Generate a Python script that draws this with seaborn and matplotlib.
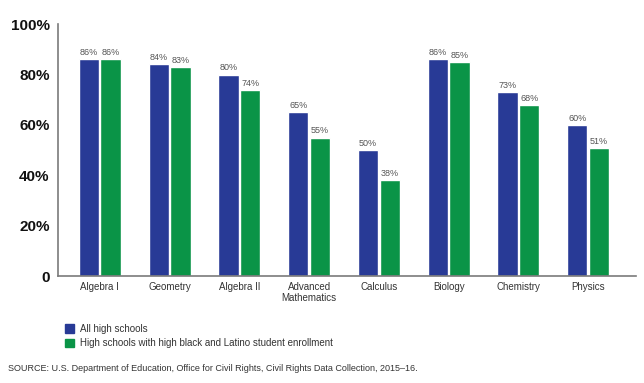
import pandas as pd
import matplotlib.pyplot as plt
import seaborn as sns
from matplotlib.patches import Patch

# Share of high schools offering each course
courses = ['Algebra I', 'Geometry', 'Algebra II', 'Advanced\nMathematics',
           'Calculus', 'Biology', 'Chemistry', 'Physics']
all_schools = [86, 84, 80, 65, 50, 86, 73, 60]
black_latino = [86, 83, 74, 55, 38, 85, 68, 51]
series_names = ['All high schools',
                'High schools with high black and Latino student enrollment']
yticks = [0, 20, 40, 60, 80, 100]
ytick_labels = ['0', '20%', '40%', '60%', '80%', '100%']

colors = ['#283a96', '#0a9447']

df = pd.DataFrame({
    'course': courses * 2,
    'pct': all_schools + black_latino,
    'group': [series_names[0]] * len(courses) + [series_names[1]] * len(courses),
})

sns.set_style('white')
plt.rcParams['font.family'] = ['Liberation Sans', 'DejaVu Sans']

fig = plt.figure(figsize=(6.44, 3.83), dpi=100)
ax = fig.add_axes([0.090, 0.279, 0.898, 0.658])

sns.barplot(data=df, x='course', y='pct', hue='group', palette=colors,
            width=0.62, gap=0.06, saturation=1, legend=False, ax=ax)

for cont in ax.containers:
    ax.bar_label(cont, fmt='%d%%', padding=1.5, fontsize=6.5, color='#555555')

ax.set_ylim(0, 100)
ax.set_xlim(-0.6, 7.69)
ax.set_yticks(yticks)
ax.set_yticklabels(ytick_labels, fontsize=11, fontweight='bold', color='#111111')
ax.tick_params(axis='both', length=0)
ax.tick_params(axis='y', pad=6)
ax.tick_params(axis='x', labelsize=7, colors='#333333', pad=4)
ax.set_xlabel('')
ax.set_ylabel('')
sns.despine(ax=ax)
for side in ['left', 'bottom']:
    ax.spines[side].set_color('#7a7a7a')
    ax.spines[side].set_linewidth(1.2)

handles = [Patch(color=c) for c in colors]
fig.legend(handles, series_names, loc='upper left', bbox_to_anchor=(0.088, 0.178),
           frameon=False, fontsize=7, handlelength=0.85, handleheight=1.0,
           handletextpad=0.7, labelspacing=0.5, labelcolor='#333333')

fig.text(0.012, 0.032, 'SOURCE: U.S. Department of Education, Office for Civil Rights, '
         'Civil Rights Data Collection, 2015\u201316.', fontsize=6.5, color='#333333')

fig.savefig('out.png', dpi=100)
